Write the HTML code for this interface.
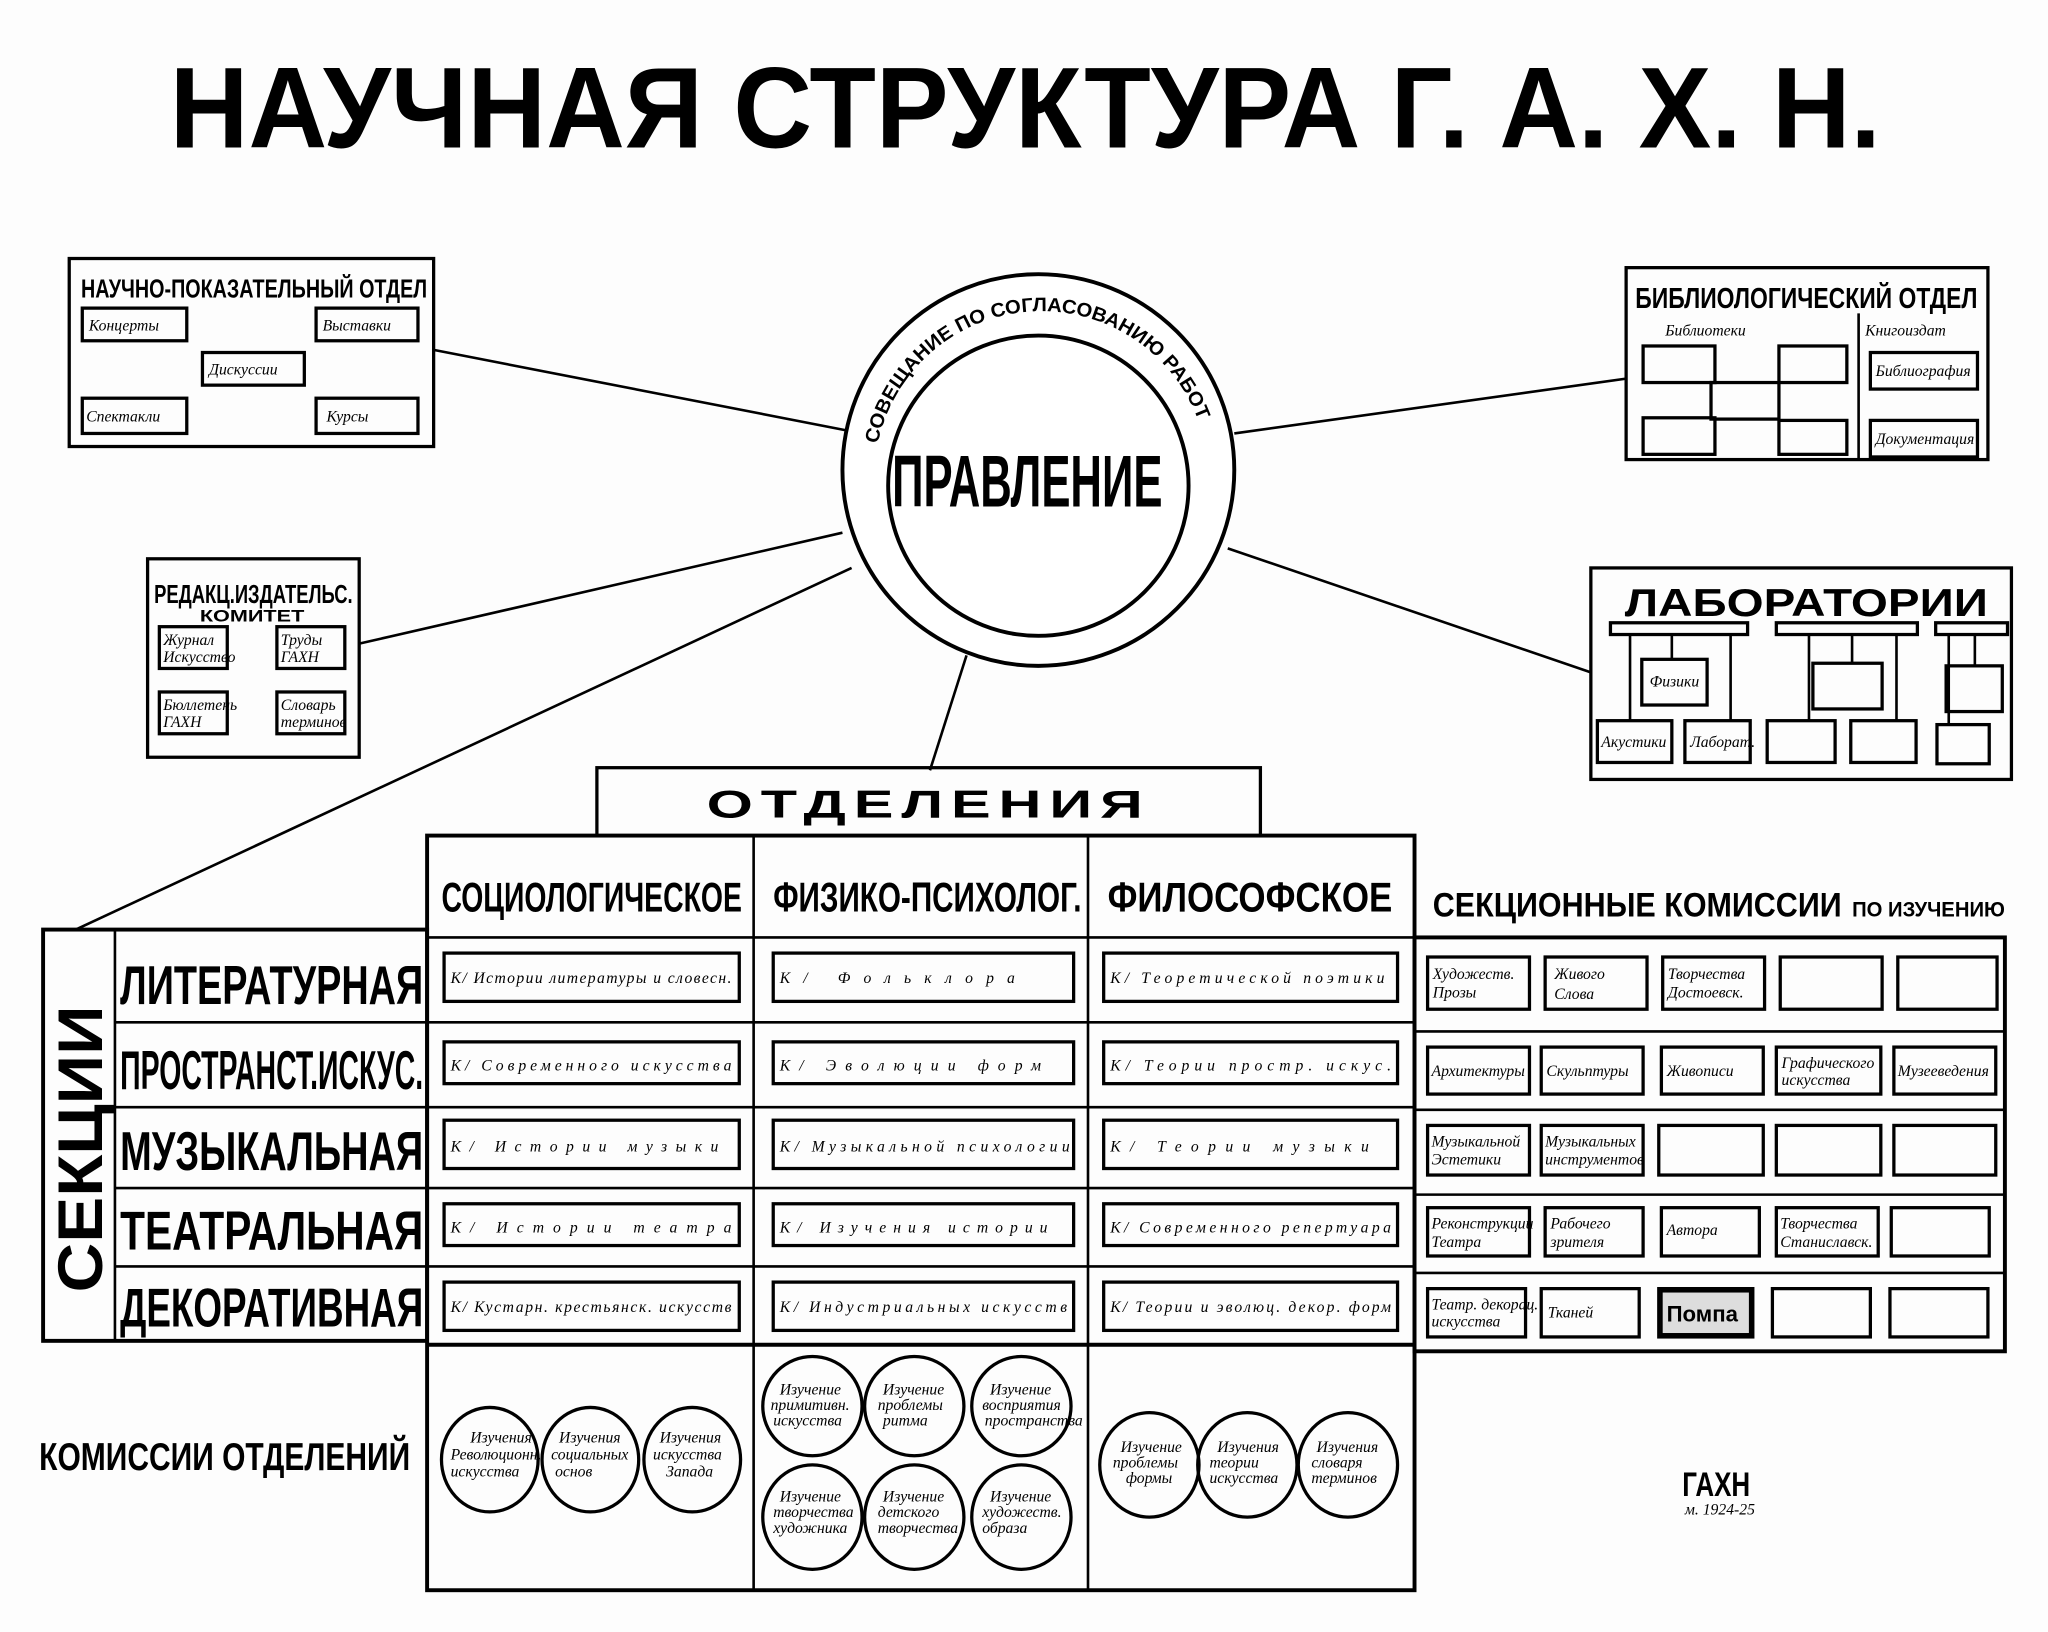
<!DOCTYPE html>
<html><head><meta charset="utf-8"><style>
html,body{margin:0;padding:0;background:#fff;}
svg{display:block;}
.t{font-family:"Liberation Sans Narrow","Liberation Sans",sans-serif;font-weight:bold;fill:#000;}
.h{font-family:"Liberation Serif",serif;font-style:italic;fill:#000;font-size:12px;}
.b{fill:none;stroke:#000;stroke-width:2.5;}
.bt{fill:none;stroke:#000;stroke-width:3;}
.l{stroke:#000;stroke-width:2;}
</style></head><body>
<svg width="2048" height="1632" viewBox="0 0 1568 1250" preserveAspectRatio="none" xmlns="http://www.w3.org/2000/svg">
<rect width="1568" height="1250" fill="#fdfdfd"/>
<!-- Title -->
<text class="t" x="130" y="113" font-size="88" textLength="1310" lengthAdjust="spacingAndGlyphs">НАУЧНАЯ СТРУКТУРА  Г. А. Х. Н.</text>

<!-- connector lines -->
<line class="l" x1="332" y1="268" x2="650" y2="330"/>
<line class="l" x1="275" y1="493" x2="645" y2="408"/>
<line class="l" x1="58" y1="712" x2="652" y2="435"/>
<line class="l" x1="740" y1="502" x2="712" y2="590"/>
<line class="l" x1="945" y1="332" x2="1245" y2="290"/>
<line class="l" x1="940" y1="420" x2="1218" y2="515"/>

<!-- Circle -->
<circle cx="795" cy="360" r="150" fill="#fff" stroke="#000" stroke-width="3"/>
<circle cx="795" cy="372" r="115" fill="none" stroke="#000" stroke-width="3"/>
<defs><path id="arc" d="M 672 340 A 128 128 0 0 1 920 330"/></defs>
<text class="t" font-size="15"><textPath href="#arc" textLength="330" lengthAdjust="spacingAndGlyphs">СОВЕЩАНИЕ ПО СОГЛАСОВАНИЮ РАБОТ</textPath></text>
<text class="t" x="683" y="388" font-size="56" textLength="207" lengthAdjust="spacingAndGlyphs">ПРАВЛЕНИЕ</text>

<!-- Top-left box -->
<rect class="b" x="53" y="198" width="279" height="144"/>
<text class="t" x="62" y="228" font-size="20" textLength="265" lengthAdjust="spacingAndGlyphs">НАУЧНО-ПОКАЗАТЕЛЬНЫЙ ОТДЕЛ</text>
<rect class="b" x="63" y="236" width="80" height="25"/><text class="h" x="68" y="253">Концерты</text>
<rect class="b" x="242" y="236" width="78" height="25"/><text class="h" x="247" y="253">Выставки</text>
<rect class="b" x="155" y="270" width="78" height="25"/><text class="h" x="160" y="287">Дискуссии</text>
<rect class="b" x="63" y="305" width="80" height="27"/><text class="h" x="66" y="323">Спектакли</text>
<rect class="b" x="242" y="305" width="78" height="27"/><text class="h" x="250" y="323">Курсы</text>

<!-- Redakts box -->
<rect class="b" x="113" y="428" width="162" height="152"/>
<text class="t" x="118" y="462" font-size="20" textLength="152" lengthAdjust="spacingAndGlyphs">РЕДАКЦ.ИЗДАТЕЛЬС.</text>
<text class="t" x="153" y="476" font-size="13" textLength="80" lengthAdjust="spacingAndGlyphs">КОМИТЕТ</text>
<rect class="b" x="122" y="480" width="52" height="32"/><text class="h" x="125" y="494" font-size="10">Журнал</text><text class="h" x="125" y="507" font-size="10">Искусство</text>
<rect class="b" x="212" y="480" width="52" height="32"/><text class="h" x="215" y="494" font-size="10">Труды</text><text class="h" x="215" y="507" font-size="10">ГАХН</text>
<rect class="b" x="122" y="530" width="52" height="32"/><text class="h" x="125" y="544" font-size="10">Бюллетень</text><text class="h" x="125" y="557" font-size="10">ГАХН</text>
<rect class="b" x="212" y="530" width="52" height="32"/><text class="h" x="215" y="544" font-size="10">Словарь</text><text class="h" x="215" y="557" font-size="10">терминов</text>

<!-- Bibliological box -->
<rect class="b" x="1245" y="205" width="277" height="147"/>
<line class="l" x1="1423" y1="240" x2="1423" y2="352"/>
<text class="t" x="1252" y="236" font-size="22" textLength="262" lengthAdjust="spacingAndGlyphs">БИБЛИОЛОГИЧЕСКИЙ ОТДЕЛ</text>
<text class="h" x="1275" y="257" font-size="15">Библиотеки</text>
<text class="h" x="1428" y="257" font-size="15">Книгоиздат</text>
<rect class="b" x="1258" y="265" width="55" height="28"/>
<rect class="b" x="1362" y="265" width="52" height="28"/>
<rect class="b" x="1310" y="293" width="52" height="28"/>
<rect class="b" x="1258" y="320" width="55" height="28"/>
<rect class="b" x="1362" y="322" width="52" height="26"/>
<rect class="b" x="1432" y="270" width="82" height="28"/><text class="h" x="1436" y="288" font-size="10">Библиография</text>
<rect class="b" x="1432" y="322" width="82" height="28"/><text class="h" x="1436" y="340" font-size="10">Документация</text>

<!-- Labs box -->
<rect class="b" x="1218" y="435" width="322" height="162"/>
<text class="t" x="1244" y="472" font-size="30" textLength="278" lengthAdjust="spacingAndGlyphs">ЛАБОРАТОРИИ</text>
<rect class="b" x="1233" y="477" width="105" height="9"/>
<rect class="b" x="1360" y="477" width="108" height="9"/>
<rect class="b" x="1482" y="477" width="55" height="9"/>
<line class="l" x1="1248" y1="486" x2="1248" y2="552"/><line class="l" x1="1280" y1="486" x2="1280" y2="505"/><line class="l" x1="1325" y1="486" x2="1325" y2="552"/>
<line class="l" x1="1385" y1="486" x2="1385" y2="552"/><line class="l" x1="1418" y1="486" x2="1418" y2="508"/><line class="l" x1="1452" y1="486" x2="1452" y2="552"/>
<line class="l" x1="1492" y1="486" x2="1492" y2="555"/><line class="l" x1="1512" y1="486" x2="1512" y2="510"/>
<rect class="b" x="1257" y="505" width="50" height="35"/><text class="h" x="1263" y="526" font-size="10">Физики</text>
<rect class="b" x="1388" y="508" width="53" height="35"/>
<rect class="b" x="1490" y="510" width="43" height="35"/>
<rect class="b" x="1223" y="552" width="57" height="32"/><text class="h" x="1226" y="572" font-size="9">Акустики</text>
<rect class="b" x="1290" y="552" width="50" height="32"/><text class="h" x="1294" y="572" font-size="9">Лаборат.</text>
<rect class="b" x="1353" y="552" width="52" height="32"/>
<rect class="b" x="1417" y="552" width="50" height="32"/>
<rect class="b" x="1483" y="555" width="40" height="30"/>

<!-- ОТДЕЛЕНИЯ -->
<rect class="b" x="457" y="588" width="508" height="52"/>
<text class="t" x="541" y="626" font-size="30" letter-spacing="4" textLength="340" lengthAdjust="spacingAndGlyphs">ОТДЕЛЕНИЯ</text>

<!-- Main table -->
<rect class="bt" x="327" y="640" width="756" height="578"/>
<line class="l" x1="577" y1="640" x2="577" y2="1218"/>
<line class="l" x1="833" y1="640" x2="833" y2="1218"/>
<line class="l" x1="327" y1="718" x2="1083" y2="718"/>
<line class="l" x1="327" y1="783" x2="1083" y2="783"/>
<line class="l" x1="327" y1="848" x2="1083" y2="848"/>
<line class="l" x1="327" y1="910" x2="1083" y2="910"/>
<line class="l" x1="327" y1="970" x2="1083" y2="970"/>
<line class="bt" x1="327" y1="1030" x2="1083" y2="1030"/>
<text class="t" x="338" y="698" font-size="32" textLength="230" lengthAdjust="spacingAndGlyphs">СОЦИОЛОГИЧЕСКОЕ</text>
<text class="t" x="592" y="698" font-size="32" textLength="236" lengthAdjust="spacingAndGlyphs">ФИЗИКО-ПСИХОЛОГ.</text>
<text class="t" x="848" y="698" font-size="32" textLength="218" lengthAdjust="spacingAndGlyphs">ФИЛОСОФСКОЕ</text>

<!-- Left sections -->
<rect class="bt" x="33" y="712" width="294" height="315"/>
<line class="l" x1="88" y1="712" x2="88" y2="1027"/>
<line class="l" x1="88" y1="783" x2="327" y2="783"/>
<line class="l" x1="88" y1="848" x2="327" y2="848"/>
<line class="l" x1="88" y1="910" x2="327" y2="910"/>
<line class="l" x1="88" y1="970" x2="327" y2="970"/>
<text class="t" font-size="48" transform="translate(78,990) rotate(-90)" textLength="220" lengthAdjust="spacingAndGlyphs">СЕКЦИИ</text>
<text class="t" x="92" y="769" font-size="42" textLength="232" lengthAdjust="spacingAndGlyphs">ЛИТЕРАТУРНАЯ</text>
<text class="t" x="92" y="834" font-size="42" textLength="232" lengthAdjust="spacingAndGlyphs">ПРОСТРАНСТ.ИСКУС.</text>
<text class="t" x="92" y="896" font-size="42" textLength="232" lengthAdjust="spacingAndGlyphs">МУЗЫКАЛЬНАЯ</text>
<text class="t" x="92" y="957" font-size="42" textLength="232" lengthAdjust="spacingAndGlyphs">ТЕАТРАЛЬНАЯ</text>
<text class="t" x="92" y="1016" font-size="42" textLength="232" lengthAdjust="spacingAndGlyphs">ДЕКОРАТИВНАЯ</text>

<!-- Cells in departments -->
<g>
<rect class="b" x="340" y="730" width="226" height="37"/><text class="h" x="345" y="753" font-size="15" textLength="215">К/ Истории литературы и словесн.</text>
<rect class="b" x="592" y="730" width="230" height="37"/><text class="h" x="597" y="753" font-size="17" textLength="180">К/ Фольклора</text>
<rect class="b" x="845" y="730" width="225" height="37"/><text class="h" x="850" y="753" font-size="15" textLength="210">К/ Теоретической поэтики</text>
<rect class="b" x="340" y="798" width="226" height="32"/><text class="h" x="345" y="820" font-size="15" textLength="215">К/ Современного искусства</text>
<rect class="b" x="592" y="798" width="230" height="32"/><text class="h" x="597" y="820" font-size="16" textLength="200">К/ Эволюции форм</text>
<rect class="b" x="845" y="798" width="225" height="32"/><text class="h" x="850" y="820" font-size="15" textLength="215">К/ Теории простр. искус.</text>
<rect class="b" x="340" y="858" width="226" height="37"/><text class="h" x="345" y="882" font-size="16" textLength="205">К/ Истории музыки</text>
<rect class="b" x="592" y="858" width="230" height="37"/><text class="h" x="597" y="882" font-size="15" textLength="222">К/ Музыкальной психологии</text>
<rect class="b" x="845" y="858" width="225" height="37"/><text class="h" x="850" y="882" font-size="16" textLength="198">К/ Теории музыки</text>
<rect class="b" x="340" y="922" width="226" height="32"/><text class="h" x="345" y="944" font-size="16" textLength="215">К/ Истории театра</text>
<rect class="b" x="592" y="922" width="230" height="32"/><text class="h" x="597" y="944" font-size="16" textLength="205">К/ Изучения истории</text>
<rect class="b" x="845" y="922" width="225" height="32"/><text class="h" x="850" y="944" font-size="15" textLength="215">К/ Современного репертуара</text>
<rect class="b" x="340" y="982" width="226" height="37"/><text class="h" x="345" y="1005" font-size="15" textLength="215">К/ Кустарн. крестьянск. искусств</text>
<rect class="b" x="592" y="982" width="230" height="37"/><text class="h" x="597" y="1005" font-size="15" textLength="220">К/ Индустриальных искусств</text>
<rect class="b" x="845" y="982" width="225" height="37"/><text class="h" x="850" y="1005" font-size="15" textLength="215">К/ Теории и эволюц. декор. форм</text>
</g>

<!-- Right sectional commissions -->
<text class="t" x="1097" y="702" font-size="26" textLength="313" lengthAdjust="spacingAndGlyphs">СЕКЦИОННЫЕ КОМИССИИ</text>
<text class="t" x="1418" y="702" font-size="16" textLength="117" lengthAdjust="spacingAndGlyphs">ПО ИЗУЧЕНИЮ</text>
<rect class="bt" x="1083" y="718" width="452" height="317"/>
<line class="l" x1="1083" y1="790" x2="1535" y2="790"/>
<line class="l" x1="1083" y1="850" x2="1535" y2="850"/>
<line class="l" x1="1083" y1="915" x2="1535" y2="915"/>
<line class="l" x1="1083" y1="975" x2="1535" y2="975"/>
<g>
<rect class="b" x="1093" y="733" width="78" height="40"/><rect class="b" x="1183" y="733" width="78" height="40"/><rect class="b" x="1273" y="733" width="78" height="40"/><rect class="b" x="1363" y="733" width="78" height="40"/><rect class="b" x="1453" y="733" width="76" height="40"/>
<rect class="b" x="1093" y="802" width="78" height="36"/><rect class="b" x="1180" y="802" width="78" height="36"/><rect class="b" x="1272" y="802" width="78" height="36"/><rect class="b" x="1360" y="802" width="80" height="36"/><rect class="b" x="1450" y="802" width="78" height="36"/>
<rect class="b" x="1093" y="862" width="78" height="38"/><rect class="b" x="1180" y="862" width="78" height="38"/><rect class="b" x="1270" y="862" width="80" height="38"/><rect class="b" x="1360" y="862" width="80" height="38"/><rect class="b" x="1450" y="862" width="78" height="38"/>
<rect class="b" x="1093" y="925" width="78" height="37"/><rect class="b" x="1183" y="925" width="75" height="37"/><rect class="b" x="1272" y="925" width="75" height="37"/><rect class="b" x="1360" y="925" width="78" height="37"/><rect class="b" x="1448" y="925" width="75" height="37"/>
<rect class="b" x="1093" y="987" width="75" height="37"/><rect class="b" x="1180" y="987" width="75" height="37"/><rect class="b" x="1270" y="987" width="72" height="37"/><rect class="b" x="1357" y="987" width="75" height="37"/><rect class="b" x="1447" y="987" width="75" height="37"/>
<text class="h" x="1097" y="750" font-size="10">Художеств.</text><text class="h" x="1097" y="764" font-size="10">Прозы</text>
<text class="h" x="1190" y="750" font-size="12">Живого</text><text class="h" x="1190" y="765" font-size="12">Слова</text>
<text class="h" x="1277" y="750" font-size="11">Творчества</text><text class="h" x="1277" y="764" font-size="11">Достоевск.</text>
<text class="h" x="1096" y="824" font-size="11">Архитектуры</text><text class="h" x="1184" y="824" font-size="11">Скульптуры</text><text class="h" x="1276" y="824" font-size="11">Живописи</text>
<text class="h" x="1364" y="818" font-size="10">Графического</text><text class="h" x="1364" y="831" font-size="10">искусства</text><text class="h" x="1453" y="824" font-size="10">Музееведения</text>
<text class="h" x="1096" y="878" font-size="10">Музыкальной</text><text class="h" x="1096" y="892" font-size="10">Эстетики</text>
<text class="h" x="1183" y="878" font-size="10">Музыкальных</text><text class="h" x="1183" y="892" font-size="10">инструментов</text>
<text class="h" x="1096" y="941" font-size="10">Реконструкции</text><text class="h" x="1096" y="955" font-size="10">Театра</text>
<text class="h" x="1187" y="941" font-size="10">Рабочего</text><text class="h" x="1187" y="955" font-size="10">зрителя</text>
<text class="h" x="1276" y="946" font-size="11">Автора</text>
<text class="h" x="1363" y="941" font-size="10">Творчества</text><text class="h" x="1363" y="955" font-size="10">Станиславск.</text>
<text class="h" x="1096" y="1003" font-size="10">Театр. декорац.</text><text class="h" x="1096" y="1016" font-size="10">искусства</text>
<text class="h" x="1185" y="1009" font-size="11">Тканей</text>
<rect x="1272" y="989" width="68" height="33" fill="#ddd" stroke="#000" stroke-width="2"/>
<text class="t" x="1276" y="1012" font-size="17">Помпа</text>
</g>

<!-- Commissions of departments -->
<text class="t" x="30" y="1126" font-size="30" textLength="284" lengthAdjust="spacingAndGlyphs">КОМИССИИ ОТДЕЛЕНИЙ</text>
<g fill="none" stroke="#000" stroke-width="2.5">
<ellipse cx="375" cy="1118" rx="37" ry="40"/><ellipse cx="452" cy="1118" rx="37" ry="40"/><ellipse cx="530" cy="1118" rx="37" ry="40"/>
<ellipse cx="622" cy="1077" rx="38" ry="38"/><ellipse cx="700" cy="1077" rx="38" ry="38"/><ellipse cx="782" cy="1077" rx="38" ry="38"/>
<ellipse cx="622" cy="1162" rx="38" ry="40"/><ellipse cx="700" cy="1162" rx="38" ry="40"/><ellipse cx="782" cy="1162" rx="38" ry="40"/>
<ellipse cx="880" cy="1122" rx="38" ry="40"/><ellipse cx="955" cy="1122" rx="38" ry="40"/><ellipse cx="1032" cy="1122" rx="38" ry="40"/>
</g>
<g class="h" font-size="9">
<text x="360" y="1105">Изучения</text><text x="345" y="1118">Революционн.</text><text x="345" y="1131">искусства</text>
<text x="428" y="1105">Изучения</text><text x="422" y="1118">социальных</text><text x="425" y="1131">основ</text>
<text x="505" y="1105">Изучения</text><text x="500" y="1118">искусства</text><text x="510" y="1131">Запада</text>
<text x="597" y="1068">Изучение</text><text x="590" y="1080">примитивн.</text><text x="592" y="1092">искусства</text>
<text x="676" y="1068">Изучение</text><text x="672" y="1080">проблемы</text><text x="676" y="1092">ритма</text>
<text x="758" y="1068">Изучение</text><text x="752" y="1080">восприятия</text><text x="754" y="1092">пространства</text>
<text x="597" y="1150">Изучение</text><text x="592" y="1162">творчества</text><text x="592" y="1174">художника</text>
<text x="676" y="1150">Изучение</text><text x="672" y="1162">детского</text><text x="672" y="1174">творчества</text>
<text x="758" y="1150">Изучение</text><text x="752" y="1162">художеств.</text><text x="752" y="1174">образа</text>
<text x="858" y="1112">Изучение</text><text x="852" y="1124">проблемы</text><text x="862" y="1136">формы</text>
<text x="932" y="1112">Изучения</text><text x="926" y="1124">теории</text><text x="926" y="1136">искусства</text>
<text x="1008" y="1112">Изучения</text><text x="1004" y="1124">словаря</text><text x="1004" y="1136">терминов</text>
</g>

<!-- logo -->
<text class="t" x="1288" y="1146" font-size="26" textLength="52" lengthAdjust="spacingAndGlyphs">ГАХН</text>
<text class="h" x="1290" y="1160" font-size="7">м. 1924-25</text>
</svg>
</body></html>
